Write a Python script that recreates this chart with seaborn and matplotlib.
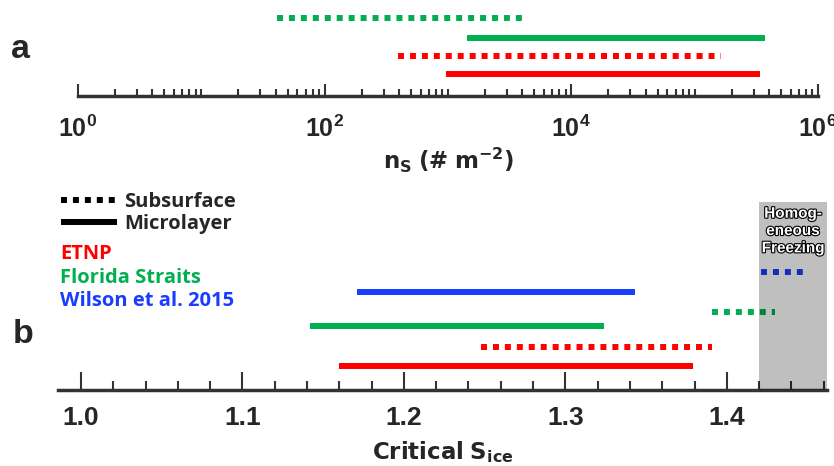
import numpy as np
import pandas as pd
import matplotlib
matplotlib.use('Agg')
import matplotlib.pyplot as plt
import seaborn as sns
from matplotlib.lines import Line2D
from matplotlib.ticker import FixedLocator, FixedFormatter, LogLocator, MultipleLocator, NullFormatter
import matplotlib.patheffects as pe

# ---------------- data ----------------
# panel a: ice nucleation active site density ranges (n_s, # m^-2)
sites_a = ['ETNP', 'ETNP', 'Florida Straits', 'Florida Straits']
kinds_a = ['Microlayer', 'Subsurface', 'Microlayer', 'Subsurface']
ns_low = [960, 395, 1430, 41]
ns_high = [3.4e5, 1.65e5, 3.7e5, 4200]
rows_a = [1.0, 1.96, 2.93, 4.0]
ticks_a = [1, 1e2, 1e4, 1e6]
ticklabels_a = [r'$\mathbf{10^{0}}$', r'$\mathbf{10^{2}}$', r'$\mathbf{10^{4}}$', r'$\mathbf{10^{6}}$']

# panel b: critical S_ice ranges
sites_b = ['ETNP', 'ETNP', 'Florida Straits', 'Florida Straits',
           'Wilson et al. 2015', 'Wilson et al. 2015']
kinds_b = ['Microlayer', 'Subsurface', 'Microlayer', 'Subsurface',
           'Microlayer', 'Subsurface']
s_low = [1.160, 1.248, 1.142, 1.391, 1.171, 1.421]
s_high = [1.379, 1.391, 1.324, 1.430, 1.343, 1.447]
rows_b = [1.0, 1.95, 3.0, 3.7, 4.7, 5.7]
ticks_b = [1.0, 1.1, 1.2, 1.3, 1.4]
ticklabels_b = ['1.0', '1.1', '1.2', '1.3', '1.4']
homog_start = 1.42

site_names = ['ETNP', 'Florida Straits', 'Wilson et al. 2015']
site_colors = ['#FF0000', '#00B050', '#1A3CFF']
kind_names = ['Subsurface', 'Microlayer']


def long_form(sites, kinds, lows, highs, rows):
    recs = []
    for i, (s, k, lo, hi, r) in enumerate(zip(sites, kinds, lows, highs, rows)):
        recs.append(dict(seg=i, site=s, kind=k, x=lo, row=r))
        recs.append(dict(seg=i, site=s, kind=k, x=hi, row=r))
    return pd.DataFrame(recs)


df_a = long_form(sites_a, kinds_a, ns_low, ns_high, rows_a)
df_b = long_form(sites_b, kinds_b, s_low, s_high, rows_b)

# ---------------- style ----------------
sns.set_theme(style='white')
plt.rcParams.update({
    'mathtext.fontset': 'custom',
    'mathtext.bf': 'Liberation Sans:bold',
    'mathtext.rm': 'Liberation Sans',
    'mathtext.it': 'Liberation Sans:italic',
    'mathtext.sf': 'DejaVu Sans:bold',
    'lines.solid_capstyle': 'butt',
    'lines.dash_capstyle': 'butt',
    'axes.facecolor': 'none',
})
plt.rcParams['font.family'] = ['Open Sans', 'DejaVu Sans']

palette = dict(zip(site_names, site_colors))
dashes = {'Microlayer': '', 'Subsurface': (1, 1)}
LW = 4.3
SPINE = '#333333'

W, H = 834, 466
fig = plt.figure(figsize=(W / 100, H / 100), dpi=100)


def fx(px):
    return px / W


def fy(py):
    return 1 - py / H


ax_a = fig.add_axes([fx(78), fy(96), fx(818) - fx(78), fy(8) - fy(96)])
ax_b = fig.add_axes([fx(58), fy(390), fx(827) - fx(58), fy(202) - fy(390)])

# ---------------- panel a ----------------
ax_a.set_xscale('log')
sns.lineplot(data=df_a, x='x', y='row', hue='site', style='kind', units='seg',
             estimator=None, sort=False, palette=palette, dashes=dashes,
             linewidth=LW, legend=False, ax=ax_a)
ax_a.set_xlim(1, 1e6)
ax_a.set_ylim(-0.178, 4.535)
ax_a.xaxis.set_major_locator(FixedLocator(ticks_a))
ax_a.xaxis.set_major_formatter(FixedFormatter(ticklabels_a))
ax_a.xaxis.set_minor_locator(LogLocator(base=10, subs=np.arange(1, 10), numticks=100))
ax_a.xaxis.set_minor_formatter(NullFormatter())
ax_a.tick_params(axis='x', which='major', direction='in', length=8.6, width=1.5,
                 color=SPINE, pad=15, labelsize=18, bottom=True)
ax_a.tick_params(axis='x', which='minor', direction='in', length=5, width=1.5,
                 color=SPINE, bottom=True)
ax_a.set_xlabel(r'$\mathsf{n_S\ (\#\ m^{-2})}$', fontsize=16.5, labelpad=2)

# ---------------- panel b ----------------
sns.lineplot(data=df_b, x='x', y='row', hue='site', style='kind', units='seg',
             estimator=None, sort=False, palette=palette, dashes=dashes,
             linewidth=LW, legend=False, ax=ax_b)
ax_b.set_xlim(0.9858, 1.462)
ax_b.set_ylim(-0.2, 9.2)
ax_b.axvspan(homog_start, 1.462, color='black', alpha=0.25, lw=0, zorder=3)
ax_b.xaxis.set_major_locator(FixedLocator(ticks_b))
ax_b.xaxis.set_major_formatter(FixedFormatter(ticklabels_b))
ax_b.xaxis.set_minor_locator(MultipleLocator(0.02))
ax_b.tick_params(axis='x', which='major', direction='in', length=13, width=1.5,
                 color=SPINE, pad=11.5, labelsize=19, bottom=True)
ax_b.tick_params(axis='x', which='minor', direction='in', length=6.5, width=1.5,
                 color=SPINE, bottom=True)
for lab in ax_b.get_xticklabels():
    lab.set_fontfamily('Liberation Sans')
    lab.set_fontweight('bold')
ax_b.set_xlabel(r'$\mathsf{Critical\ S_{ice}}$', fontsize=16.5, labelpad=7)

ax_b.text((homog_start + 1.462) / 2, 0.975, 'Homog-\neneous\nFreezing',
          transform=ax_b.get_xaxis_transform(), ha='center', va='top',
          multialignment='center', fontsize=11, fontweight='bold',
          family='Liberation Sans', color='white', zorder=5, linespacing=1.3,
          path_effects=[pe.withStroke(linewidth=1.6, foreground='black')])

for ax in (ax_a, ax_b):
    for side in ('left', 'right', 'top'):
        ax.spines[side].set_visible(False)
    ax.spines['bottom'].set_linewidth(2.5)
    ax.spines['bottom'].set_color(SPINE)
    ax.set_yticks([])
    ax.set_ylabel('')

# ---------------- legend ----------------
handles = [Line2D([], [], color='black', lw=LW, linestyle=(0, (1, 1))),
           Line2D([], [], color='black', lw=LW, linestyle='-')]
leg = fig.legend(handles, kind_names, loc='upper left',
                 bbox_to_anchor=(fx(61), fy(192)), frameon=False,
                 borderpad=0, borderaxespad=0, handlelength=2.8,
                 handletextpad=0.35, labelspacing=0.1,
                 prop={'family': 'Open Sans', 'weight': 'bold', 'size': 14.5})

for name, col, base in zip(site_names, site_colors, [259, 283, 306]):
    fig.text(fx(60), fy(base), name, color=col, fontsize=14.5,
             fontweight='bold', family='Open Sans', va='baseline', ha='left')

# panel letters
fig.text(fx(20.5), fy(58), 'a', fontsize=24.5, fontweight='bold',
         family='Liberation Sans', ha='center', va='baseline')
fig.text(fx(23.5), fy(343), 'b', fontsize=24.5, fontweight='bold',
         family='Liberation Sans', ha='center', va='baseline')

fig.savefig('out.png', dpi=100)
